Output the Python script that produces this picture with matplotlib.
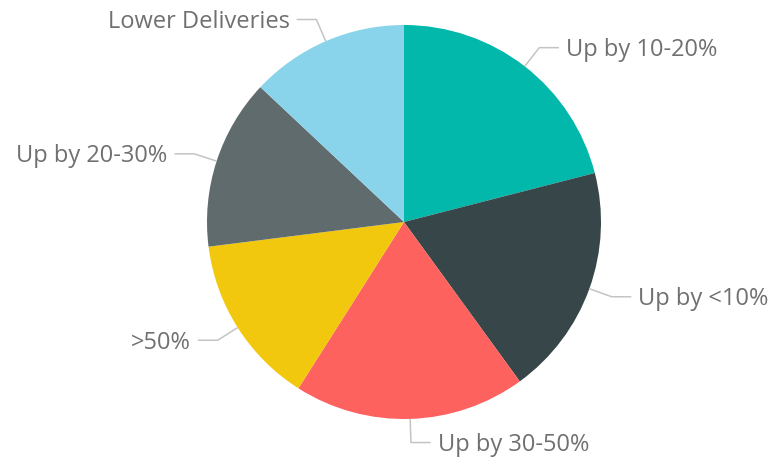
import numpy as np
import matplotlib
matplotlib.use("Agg")
import matplotlib.pyplot as plt

categories = ["Up by 10-20%", "Up by <10%", "Up by 30-50%", ">50%", "Up by 20-30%", "Lower Deliveries"]
values = [21, 19, 19, 14, 14, 13]
colors = ["#01B8AA", "#374649", "#FD625E", "#F2C80F", "#5F6B6D", "#8AD4EB"]

plt.rcParams['font.family'] = ['Open Sans', 'DejaVu Sans']

W, H = 771, 461
R = 197.0
cx, cy = 404.0, 222.0
fig = plt.figure(figsize=(W / 100, H / 100), dpi=100)
ax = fig.add_axes([0, 0, 1, 1])

wedges, _ = ax.pie(values, colors=colors, startangle=90, counterclock=False,
                   radius=1.0, center=(0, 0), frame=True,
                   wedgeprops=dict(linewidth=0))
ax.set_xlim(-cx / R, (W - cx) / R)
ax.set_ylim(-(H - cy) / R, cy / R)
ax.set_aspect("equal")
ax.axis("off")

line_c = "#C4C4C4"
text_c = "#707070"
cap_half = 8.5 / R
for w, lab in zip(wedges, categories):
    ang = np.deg2rad((w.theta1 + w.theta2) / 2)
    x0, y0 = np.cos(ang) * 1.0, np.sin(ang) * 1.0
    x1, y1 = np.cos(ang) * 1.12, np.sin(ang) * 1.12
    side = 1 if x1 >= 0 else -1
    if abs(x1) < 0.1:
        side = 1
    x2 = x1 + side * 0.10
    ax.plot([x0, x1, x2], [y0, y1, y1], color=line_c, lw=1.1, solid_capstyle="butt")
    ax.text(x2 + side * 0.035, y1 - cap_half, lab, ha="left" if side > 0 else "right",
            va="baseline", fontsize=17, color=text_c)

fig.savefig("out.png", dpi=100)
